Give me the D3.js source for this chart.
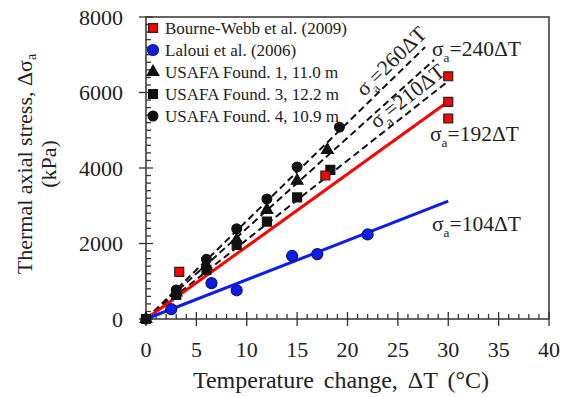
<!DOCTYPE html>
<html>
<head>
<meta charset="utf-8">
<script src="https://cdn.jsdelivr.net/npm/d3@7/dist/d3.min.js"></script>
<style>
  html, body { margin: 0; padding: 0; background: #fff; }
  svg { display: block; }
  text { font-family: "Liberation Serif", "Times New Roman", serif; fill: #222; }
</style>
</head>
<body>
<svg id="chart" width="564" height="397"></svg>
<script>
// Axis ticks
const xTicks = [0, 5, 10, 15, 20, 25, 30, 35, 40];
const yTicks = [0, 2000, 4000, 6000, 8000];

// Bourne-Webb et al. (2009)
const bourneX = [3.3, 17.8, 30, 30, 30];
const bourneY = [1250, 3800, 6430, 5750, 5310];

// Laloui et al. (2006)
const lalouiX = [2.5, 6.5, 9, 14.5, 17, 22];
const lalouiY = [260, 950, 760, 1670, 1720, 2240];

// USAFA foundations
const found1X = [0, 3, 6, 9, 12, 15, 18];
const found1Y = [0, 700, 1400, 2090, 2890, 3660, 4480];
const found3X = [0, 3, 6, 9, 12, 15, 18.3];
const found3Y = [0, 640, 1300, 1960, 2580, 3220, 3950];
const found4X = [0, 3, 6, 9, 12, 15, 19.2];
const found4Y = [0, 770, 1580, 2390, 3180, 4030, 5080];

// Linear fits sigma_a = k * dT
const dashedSlopes = [260, 240, 210];
const dashedEnds = [27.7, 28.6, 30];
const redSlope = 192, redEnd = 30;
const blueSlope = 104, blueEnd = 30;

const svg = d3.select("#chart");
const x = d3.scaleLinear().domain([0, 40]).range([146, 549]);
const y = d3.scaleLinear().domain([0, 8000]).range([319, 17]);

// frame
svg.append("rect")
  .attr("x", x(0)).attr("y", y(8000))
  .attr("width", x(40) - x(0)).attr("height", y(0) - y(8000))
  .attr("fill", "none").attr("stroke", "#333").attr("stroke-width", 1.5);

// ticks: major cross the axis, minor point inward
const tickG = svg.append("g").attr("stroke", "#333").attr("stroke-width", 1.3);
d3.range(0, 40.001, 1).forEach(v => {
  const major = v % 5 === 0;
  tickG.append("line")
    .attr("x1", x(v)).attr("x2", x(v))
    .attr("y1", y(0) + (major ? 7 : 0)).attr("y2", y(0) - (major ? 7 : 5));
});
d3.range(0, 8000.1, 200).forEach(v => {
  const major = v % 2000 === 0;
  tickG.append("line")
    .attr("y1", y(v)).attr("y2", y(v))
    .attr("x1", x(0) - (major ? 7 : 0)).attr("x2", x(0) + (major ? 7 : 5));
});

// tick labels
svg.append("g").selectAll("text").data(xTicks).join("text")
  .attr("x", d => x(d)).attr("y", 357)
  .attr("text-anchor", "middle").attr("font-size", 22)
  .text(d => d);
svg.append("g").selectAll("text").data(yTicks).join("text")
  .attr("x", 123).attr("y", d => y(d) + 7.5)
  .attr("text-anchor", "end").attr("font-size", 22)
  .text(d => d);

// axis titles
svg.append("text")
  .attr("x", 341).attr("y", 388)
  .attr("text-anchor", "middle").attr("font-size", 24)
  .attr("word-spacing", 4)
  .text("Temperature change, \u0394T (\u00B0C)");
const yt = svg.append("text")
  .attr("transform", "translate(32,164) rotate(-90)")
  .attr("text-anchor", "middle").attr("font-size", 22);
yt.append("tspan").text("Thermal axial stress, \u0394\u03C3");
yt.append("tspan").attr("font-size", 14).attr("dy", 4).text("a");
svg.append("text")
  .attr("transform", "translate(56,164) rotate(-90)")
  .attr("text-anchor", "middle").attr("font-size", 22)
  .text("(kPa)");

// fit lines
const lineG = svg.append("g").attr("fill", "none");
dashedSlopes.forEach((k, i) => {
  lineG.append("line")
    .attr("x1", x(0)).attr("y1", y(0))
    .attr("x2", x(dashedEnds[i])).attr("y2", y(k * dashedEnds[i]))
    .attr("stroke", "#111").attr("stroke-width", 2)
    .attr("stroke-dasharray", "7,4");
});
lineG.append("line")
  .attr("x1", x(0)).attr("y1", y(0))
  .attr("x2", x(redEnd)).attr("y2", y(redSlope * redEnd))
  .attr("stroke", "#f00").attr("stroke-width", 3);
lineG.append("line")
  .attr("x1", x(0)).attr("y1", y(0))
  .attr("x2", x(blueEnd)).attr("y2", y(blueSlope * blueEnd))
  .attr("stroke", "#0a1cf0").attr("stroke-width", 3);

// markers
const zip = (xs, ys) => xs.map((v, i) => [v, ys[i]]);
const sym = (type, size) => d3.symbol().type(type).size(size)();

function drawSeries(pts, type, size, fill, stroke) {
  svg.append("g").selectAll("path").data(pts).join("path")
    .attr("transform", d => `translate(${x(d[0])},${y(d[1])})`)
    .attr("d", sym(type, size))
    .attr("fill", fill).attr("stroke", stroke).attr("stroke-width", 1.2);
}
drawSeries(zip(found3X, found3Y), d3.symbolSquare, 80, "#111", "#111");
drawSeries(zip(found1X, found1Y), d3.symbolTriangle, 60, "#111", "#111");
drawSeries(zip(found4X, found4Y), d3.symbolCircle, 75, "#111", "#111");
drawSeries(zip(lalouiX, lalouiY), d3.symbolCircle, 95, "#0a1cf0", "#0a1a60");
drawSeries(zip(bourneX, bourneY), d3.symbolSquare, 80, "#f00", "#222");

// annotations
function sigmaLabel(g, k, size) {
  const t = g.append("text").attr("font-size", size);
  t.append("tspan").text("\u03C3");
  t.append("tspan").attr("font-size", size * 0.62).attr("dy", size * 0.28).text("a");
  t.append("tspan").attr("dy", -size * 0.28).text(`=${k}\u0394T`);
  return t;
}
const annSize = 21.5;
sigmaLabel(svg, 240, annSize).attr("x", 432).attr("y", 56);
sigmaLabel(svg, 192, annSize).attr("x", 430).attr("y", 141);
sigmaLabel(svg, 104, annSize).attr("x", 432).attr("y", 231);

const ang260 = Math.atan2(y(0) - y(260), x(1) - x(0)) * 180 / Math.PI;
const ang210 = Math.atan2(y(0) - y(210), x(1) - x(0)) * 180 / Math.PI;
sigmaLabel(svg.append("g").attr("transform", `translate(392,62) rotate(${-ang260})`), 260, annSize)
  .attr("text-anchor", "middle").attr("x", 0).attr("y", 6);
sigmaLabel(svg.append("g").attr("transform", `translate(408,97) rotate(${-ang210})`), 210, annSize)
  .attr("text-anchor", "middle").attr("x", 0).attr("y", 6);

// legend
const legendItems = [
  { label: "Bourne-Webb et al. (2009)", type: d3.symbolSquare, size: 80, fill: "#f00", stroke: "#222" },
  { label: "Laloui et al. (2006)", type: d3.symbolCircle, size: 95, fill: "#0a1cf0", stroke: "#0a1a60" },
  { label: "USAFA Found. 1, 11.0 m", type: d3.symbolTriangle, size: 60, fill: "#111", stroke: "#111" },
  { label: "USAFA Found. 3, 12.2 m", type: d3.symbolSquare, size: 80, fill: "#111", stroke: "#111" },
  { label: "USAFA Found. 4, 10.9 m", type: d3.symbolCircle, size: 75, fill: "#111", stroke: "#111" }
];
const lg = svg.append("g");
legendItems.forEach((d, i) => {
  const cy = 28 + i * 22;
  lg.append("path").attr("transform", `translate(153,${cy})`)
    .attr("d", sym(d.type, d.size))
    .attr("fill", d.fill).attr("stroke", d.stroke).attr("stroke-width", 1.2);
  lg.append("text").attr("x", 165).attr("y", cy + 6)
    .attr("font-size", 17).text(d.label);
});
</script>
</body>
</html>
